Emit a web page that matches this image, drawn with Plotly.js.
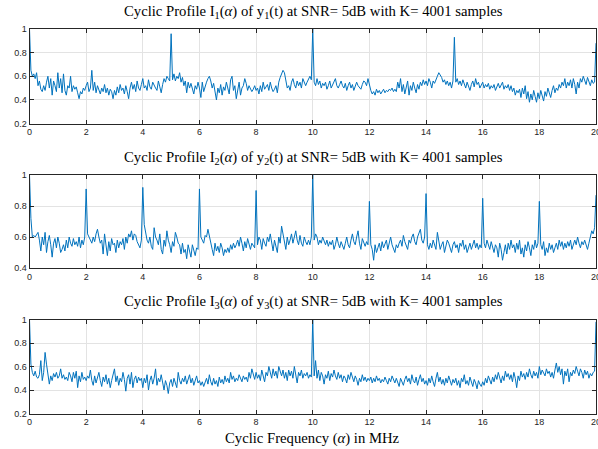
<!DOCTYPE html>
<html>
<head>
<meta charset="utf-8">
<script src="https://cdn.plot.ly/plotly-3.0.1.min.js"></script>
<style>html,body{margin:0;padding:0;background:#fff;}#chart{width:598px;height:449px;}</style>
</head>
<body>
<div id="chart"></div>
<script>
// Cyclic frequency grid: 0 .. 20 MHz, step 0.05 MHz
const alphaStart = 0;
const alphaStep = 0.05;
const xTicks = [0, 2, 4, 6, 8, 10, 12, 14, 16, 18, 20];

const profileI1 = [
1.00,0.65,0.60,0.62,0.58,0.63,0.52,0.56,0.49,0.47,0.52,0.48,0.55,0.60,0.50,0.58,0.44,0.56,0.52,0.47,
0.63,0.50,0.58,0.46,0.62,0.48,0.44,0.52,0.50,0.60,0.47,0.52,0.49,0.51,0.46,0.41,0.47,0.45,0.50,0.48,
0.52,0.55,0.47,0.50,0.65,0.48,0.55,0.46,0.52,0.49,0.45,0.50,0.47,0.53,0.46,0.50,0.44,0.49,0.47,0.41,
0.48,0.44,0.51,0.46,0.53,0.48,0.50,0.45,0.52,0.47,0.41,0.50,0.55,0.49,0.53,0.47,0.56,0.50,0.48,0.53,
0.58,0.50,0.52,0.48,0.57,0.51,0.49,0.55,0.52,0.50,0.48,0.56,0.51,0.46,0.53,0.58,0.55,0.60,0.58,0.56,
0.96,0.57,0.62,0.56,0.60,0.58,0.63,0.55,0.59,0.52,0.56,0.46,0.55,0.50,0.54,0.48,0.45,0.52,0.49,0.55,
0.50,0.42,0.55,0.47,0.52,0.55,0.58,0.60,0.56,0.50,0.54,0.47,0.40,0.50,0.46,0.53,0.44,0.51,0.48,0.55,
0.50,0.45,0.57,0.60,0.48,0.52,0.41,0.47,0.55,0.44,0.50,0.52,0.58,0.54,0.48,0.52,0.50,0.47,0.49,0.52,
0.48,0.50,0.45,0.52,0.47,0.55,0.49,0.51,0.53,0.48,0.55,0.50,0.47,0.49,0.52,0.46,0.55,0.59,0.62,0.65,
0.63,0.55,0.50,0.52,0.48,0.55,0.58,0.53,0.50,0.56,0.52,0.55,0.50,0.58,0.54,0.52,0.55,0.57,0.60,0.57,
1.00,0.55,0.52,0.58,0.53,0.56,0.50,0.54,0.52,0.55,0.49,0.52,0.56,0.50,0.53,0.55,0.58,0.52,0.50,0.53,
0.56,0.52,0.50,0.54,0.48,0.52,0.55,0.50,0.53,0.48,0.51,0.55,0.52,0.50,0.49,0.53,0.56,0.55,0.52,0.58,
0.52,0.48,0.45,0.47,0.44,0.49,0.46,0.48,0.45,0.47,0.49,0.46,0.48,0.47,0.49,0.48,0.50,0.47,0.49,0.47,
0.55,0.50,0.58,0.47,0.53,0.45,0.50,0.56,0.44,0.52,0.48,0.55,0.50,0.46,0.53,0.49,0.55,0.52,0.57,0.53,
0.56,0.52,0.58,0.55,0.50,0.56,0.54,0.58,0.60,0.63,0.61,0.59,0.55,0.57,0.53,0.56,0.52,0.55,0.50,0.56,
0.93,0.55,0.58,0.53,0.56,0.52,0.57,0.54,0.50,0.55,0.52,0.48,0.53,0.56,0.51,0.58,0.53,0.55,0.50,0.52,
0.55,0.50,0.53,0.51,0.54,0.49,0.52,0.50,0.53,0.48,0.51,0.54,0.50,0.52,0.55,0.49,0.52,0.50,0.53,0.48,
0.52,0.47,0.50,0.44,0.48,0.46,0.49,0.42,0.50,0.45,0.52,0.41,0.47,0.38,0.45,0.40,0.48,0.43,0.38,0.46,
0.41,0.48,0.44,0.39,0.47,0.43,0.50,0.45,0.42,0.48,0.52,0.46,0.50,0.48,0.53,0.50,0.55,0.52,0.58,0.50,
0.55,0.52,0.57,0.50,0.58,0.53,0.45,0.55,0.50,0.58,0.55,0.60,0.56,0.53,0.59,0.55,0.52,0.57,0.54,0.55,
0.88
];

const profileI2 = [
1.00,0.72,0.60,0.61,0.60,0.62,0.63,0.58,0.51,0.60,0.55,0.63,0.50,0.57,0.61,0.55,0.47,0.56,0.59,0.53,
0.60,0.56,0.50,0.52,0.55,0.51,0.58,0.53,0.60,0.56,0.54,0.59,0.55,0.57,0.54,0.60,0.53,0.58,0.55,0.60,
0.91,0.62,0.60,0.58,0.56,0.60,0.57,0.62,0.65,0.60,0.56,0.58,0.49,0.62,0.54,0.48,0.57,0.51,0.59,0.55,
0.56,0.50,0.58,0.53,0.57,0.55,0.59,0.52,0.60,0.56,0.62,0.60,0.64,0.58,0.62,0.61,0.57,0.55,0.53,0.58,
0.92,0.68,0.63,0.58,0.56,0.60,0.54,0.52,0.66,0.60,0.58,0.55,0.62,0.52,0.49,0.58,0.54,0.64,0.58,0.55,
0.50,0.57,0.54,0.63,0.60,0.56,0.55,0.49,0.56,0.50,0.52,0.46,0.55,0.50,0.47,0.55,0.52,0.48,0.53,0.52,
0.91,0.60,0.58,0.56,0.61,0.60,0.65,0.60,0.55,0.52,0.48,0.56,0.51,0.54,0.50,0.56,0.53,0.48,0.52,0.50,
0.53,0.50,0.55,0.52,0.56,0.53,0.55,0.58,0.54,0.60,0.56,0.51,0.57,0.53,0.59,0.55,0.52,0.56,0.54,0.53,
0.90,0.55,0.60,0.58,0.52,0.59,0.56,0.54,0.60,0.57,0.62,0.55,0.51,0.58,0.54,0.50,0.60,0.56,0.67,0.62,
0.57,0.52,0.60,0.55,0.58,0.62,0.56,0.60,0.64,0.58,0.55,0.61,0.56,0.54,0.60,0.57,0.55,0.58,0.55,0.60,
1.00,0.58,0.62,0.60,0.55,0.58,0.56,0.60,0.57,0.55,0.58,0.54,0.57,0.55,0.58,0.52,0.55,0.60,0.56,0.53,
0.57,0.55,0.52,0.56,0.60,0.55,0.53,0.58,0.62,0.57,0.55,0.60,0.64,0.56,0.52,0.59,0.56,0.54,0.57,0.55,
0.83,0.55,0.52,0.45,0.55,0.50,0.53,0.56,0.51,0.57,0.53,0.55,0.58,0.52,0.56,0.60,0.55,0.53,0.50,0.55,
0.53,0.56,0.58,0.54,0.61,0.57,0.55,0.52,0.58,0.56,0.60,0.62,0.57,0.55,0.60,0.63,0.65,0.58,0.56,0.60,
0.88,0.55,0.52,0.56,0.53,0.58,0.55,0.52,0.63,0.56,0.52,0.55,0.57,0.50,0.54,0.58,0.56,0.53,0.50,0.55,
0.57,0.53,0.55,0.50,0.56,0.54,0.58,0.52,0.55,0.50,0.53,0.56,0.52,0.55,0.58,0.53,0.56,0.52,0.55,0.53,
0.85,0.56,0.53,0.58,0.55,0.52,0.57,0.54,0.50,0.55,0.53,0.47,0.56,0.52,0.45,0.50,0.55,0.49,0.56,0.52,
0.58,0.53,0.55,0.50,0.56,0.52,0.58,0.49,0.53,0.47,0.55,0.51,0.57,0.53,0.48,0.55,0.52,0.58,0.53,0.56,
0.83,0.55,0.52,0.57,0.48,0.53,0.50,0.56,0.52,0.55,0.50,0.53,0.56,0.52,0.58,0.54,0.57,0.52,0.56,0.53,
0.57,0.54,0.58,0.52,0.56,0.58,0.55,0.60,0.56,0.53,0.57,0.55,0.58,0.54,0.52,0.56,0.60,0.64,0.62,0.66,
0.87
];

const profileI3 = [
1.00,0.62,0.55,0.52,0.56,0.51,0.50,0.53,0.65,0.48,0.55,0.72,0.62,0.55,0.45,0.52,0.48,0.54,0.51,0.55,
0.50,0.52,0.58,0.50,0.53,0.49,0.51,0.48,0.55,0.52,0.47,0.55,0.50,0.56,0.42,0.52,0.47,0.55,0.49,0.51,
0.48,0.52,0.50,0.57,0.48,0.44,0.52,0.46,0.50,0.55,0.48,0.43,0.51,0.47,0.53,0.45,0.50,0.42,0.48,0.52,
0.58,0.47,0.52,0.44,0.50,0.47,0.55,0.49,0.39,0.50,0.53,0.45,0.55,0.42,0.49,0.52,0.46,0.51,0.48,0.50,
0.42,0.50,0.46,0.53,0.40,0.48,0.52,0.45,0.50,0.58,0.44,0.50,0.47,0.53,0.45,0.40,0.48,0.44,0.37,0.46,
0.49,0.43,0.50,0.46,0.42,0.55,0.48,0.45,0.50,0.47,0.52,0.45,0.49,0.53,0.46,0.50,0.44,0.48,0.52,0.46,
0.48,0.44,0.47,0.43,0.46,0.50,0.45,0.53,0.47,0.44,0.50,0.45,0.48,0.43,0.51,0.46,0.49,0.45,0.52,0.47,
0.50,0.46,0.55,0.49,0.52,0.47,0.50,0.48,0.53,0.50,0.47,0.52,0.49,0.51,0.47,0.55,0.50,0.58,0.52,0.49,
0.55,0.50,0.53,0.48,0.57,0.51,0.47,0.55,0.52,0.60,0.54,0.50,0.58,0.52,0.56,0.50,0.60,0.55,0.52,0.57,
0.50,0.55,0.48,0.57,0.52,0.56,0.50,0.60,0.53,0.46,0.55,0.52,0.57,0.50,0.54,0.52,0.55,0.50,0.53,0.51,
1.00,0.52,0.65,0.50,0.57,0.48,0.55,0.52,0.45,0.53,0.50,0.56,0.48,0.54,0.51,0.57,0.52,0.49,0.55,0.50,
0.53,0.47,0.52,0.50,0.46,0.53,0.49,0.55,0.51,0.47,0.52,0.49,0.44,0.50,0.47,0.53,0.48,0.51,0.47,0.50,
0.48,0.51,0.46,0.50,0.47,0.52,0.48,0.50,0.46,0.49,0.47,0.51,0.48,0.45,0.50,0.47,0.52,0.48,0.46,0.50,
0.47,0.43,0.50,0.46,0.44,0.49,0.52,0.47,0.50,0.45,0.53,0.48,0.46,0.51,0.44,0.49,0.53,0.47,0.50,0.45,
0.48,0.44,0.50,0.46,0.52,0.47,0.43,0.50,0.55,0.47,0.51,0.45,0.49,0.44,0.50,0.46,0.52,0.48,0.44,0.49,
0.46,0.50,0.44,0.48,0.42,0.50,0.47,0.53,0.45,0.48,0.44,0.51,0.46,0.43,0.49,0.46,0.41,0.48,0.45,0.43,
0.47,0.44,0.50,0.46,0.52,0.48,0.45,0.51,0.47,0.53,0.49,0.55,0.50,0.46,0.52,0.48,0.56,0.51,0.54,0.49,
0.53,0.47,0.55,0.50,0.42,0.52,0.48,0.56,0.51,0.54,0.49,0.55,0.51,0.58,0.53,0.50,0.56,0.52,0.55,0.50,
0.60,0.53,0.57,0.55,0.52,0.58,0.54,0.56,0.51,0.55,0.50,0.57,0.63,0.55,0.60,0.53,0.58,0.45,0.56,0.52,
0.58,0.47,0.55,0.52,0.57,0.54,0.60,0.56,0.52,0.58,0.55,0.50,0.57,0.53,0.56,0.50,0.54,0.52,0.55,0.56,
0.98
];

const titles = [
  "Cyclic Profile I<sub>1</sub>(<i>α</i>) of y<sub>1</sub>(t) at SNR= 5dB with K= 4001 samples",
  "Cyclic Profile I<sub>2</sub>(<i>α</i>) of y<sub>2</sub>(t) at SNR= 5dB with K= 4001 samples",
  "Cyclic Profile I<sub>3</sub>(<i>α</i>) of y<sub>3</sub>(t) at SNR= 5dB with K= 4001 samples"
];
const xLabel = "Cyclic Frequency (<i>α</i>) in MHz";
const yRanges = [[0.2, 1], [0.4, 1], [0.2, 1]];

const W = 598, H = 449;
const px = v => v / W;
const py = v => 1 - v / H;
const xDom = [px(29.5), px(596)];
const yDoms = [[py(123.5), py(29)], [py(268), py(175)], [py(413.5), py(319.5)]];
const titleY = [12, 158, 302];

const lineColor = '#0072BD';
const axisColor = '#262626';
const gridColor = '#e3e3e3';
const tickFont = {family: 'Liberation Sans, Arial, sans-serif', size: 9, color: axisColor};
const textFont = {family: 'Liberation Serif, Times New Roman, serif', size: 14.7, color: '#000'};

const series = [profileI1, profileI2, profileI3];
const traces = series.map((ys, i) => ({
  type: 'scatter', mode: 'lines',
  x0: alphaStart, dx: alphaStep, y: ys,
  xaxis: i === 0 ? 'x' : 'x' + (i + 1),
  yaxis: i === 0 ? 'y' : 'y' + (i + 1),
  line: {color: lineColor, width: 1},
  hoverinfo: 'skip', showlegend: false
}));

const layout = {
  width: W, height: H,
  margin: {l: 0, r: 0, t: 0, b: 0},
  paper_bgcolor: '#fff', plot_bgcolor: '#fff',
  showlegend: false,
  annotations: []
};

for (let i = 0; i < 3; i++) {
  const sx = i === 0 ? '' : String(i + 1);
  layout['xaxis' + sx] = {
    domain: xDom, anchor: 'y' + sx, range: [0, 20],
    tickvals: xTicks, ticks: 'inside', ticklen: 4, tickcolor: axisColor,
    ticklabeloverflow: 'allow',
    showline: true, linecolor: axisColor, linewidth: 1, mirror: 'ticks',
    showgrid: true, gridcolor: gridColor, gridwidth: 1, zeroline: false,
    tickfont: tickFont, fixedrange: true
  };
  const yr = yRanges[i];
  const yt = [];
  for (let v = yr[0]; v <= yr[1] + 1e-9; v += 0.2) yt.push(Math.round(v * 10) / 10);
  layout['yaxis' + sx] = {
    domain: yDoms[i], anchor: 'x' + sx, range: yr,
    tickvals: yt, ticks: 'inside', ticklen: 4, tickcolor: axisColor,
    ticklabeloverflow: 'allow',
    showline: true, linecolor: axisColor, linewidth: 1, mirror: 'ticks',
    showgrid: true, gridcolor: gridColor, gridwidth: 1, zeroline: false,
    tickfont: tickFont, fixedrange: true
  };
  layout.annotations.push({
    xref: 'paper', yref: 'paper', x: px(313), y: py(titleY[i]),
    xanchor: 'center', yanchor: 'middle', showarrow: false,
    text: titles[i], font: textFont
  });
}
layout.annotations.push({
  xref: 'paper', yref: 'paper', x: px(312), y: py(438),
  xanchor: 'center', yanchor: 'middle', showarrow: false,
  text: xLabel, font: textFont
});

Plotly.newPlot('chart', traces, layout, {displayModeBar: false, staticPlot: true});
</script>
</body>
</html>
